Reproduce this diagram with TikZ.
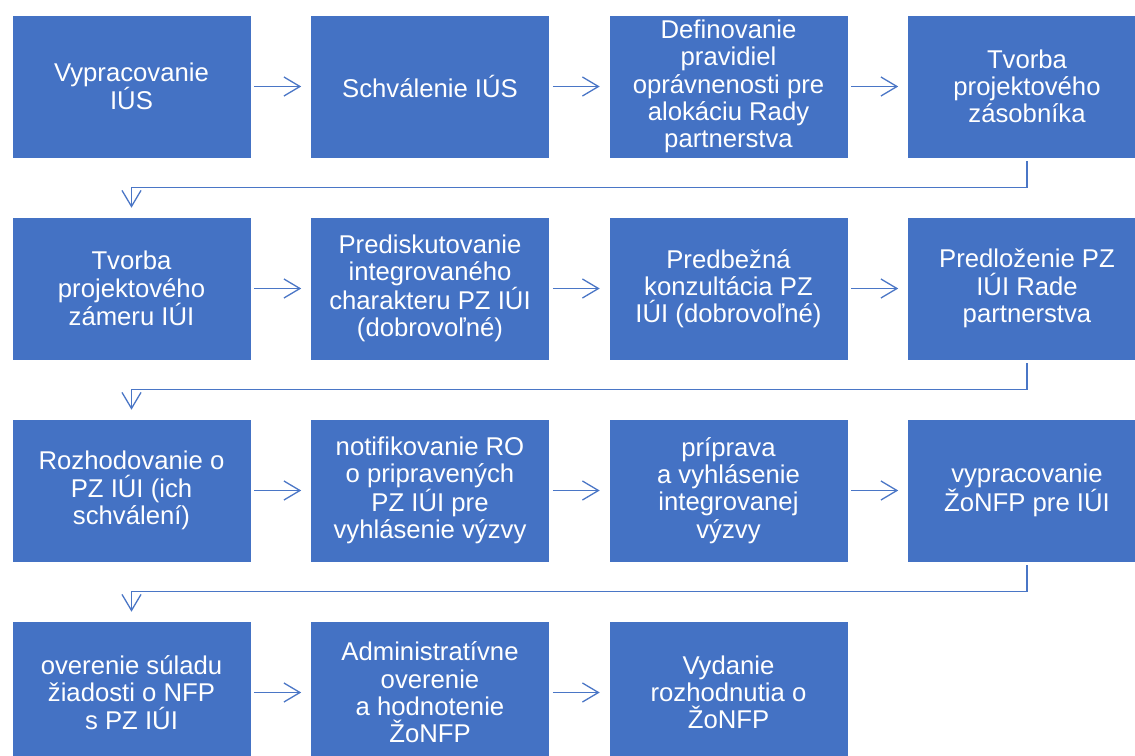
\documentclass[tikz,border=0pt]{standalone}
\usepackage{fontspec}
\setmainfont{Liberation Sans}
\usetikzlibrary{arrows.meta}
\definecolor{boxblue}{HTML}{4472C4}
\definecolor{arrblue}{HTML}{4A76C6}
\tikzset{
  stepbox/.style={rectangle, fill=boxblue, draw=white, line width=0.6pt,
    minimum width=239pt, minimum height=143pt, inner sep=0pt, align=center,
    text=white, font=\fontsize{25.7}{27.3}\selectfont},
  flow/.style={draw=arrblue, line width=1.3pt,
    -{Straight Barb[length=16pt,width=19pt,line width=1.3pt]},
    shorten <=3pt, shorten >=9pt}
}
\begin{document}
\begin{tikzpicture}[x=1pt,y=-1pt]
\useasboundingbox (0,0) rectangle (1135,755);
\fill[white] (0,0) rectangle (1135,755);
\clip (0,0) rectangle (1135,755);
% row 1
\node[stepbox] (b1) at (131.5,86.5) {Vypracovanie\\IÚS};
\node[stepbox] (b2) at (430,86.5) {Schválenie IÚS};
\node[stepbox] (b3) at (728.5,86.5) {Definovanie\\pravidiel\\oprávnenosti pre\\alokáciu Rady\\partnerstva};
\node[stepbox] (b4) at (1027,86.5) {Tvorba\\projektového\\zásobníka};
% row 2
\node[stepbox] (b5) at (131.5,288.5) {Tvorba\\projektového\\zámeru IÚI};
\node[stepbox] (b6) at (430,288.5) {Prediskutovanie\\integrovaného\\charakteru PZ IÚI\\(dobrovoľné)};
\node[stepbox] (b7) at (728.5,288.5) {Predbežná\\konzultácia PZ\\IÚI (dobrovoľné)};
\node[stepbox] (b8) at (1027,288.5) {Predloženie PZ\\IÚI Rade\\partnerstva};
% row 3
\node[stepbox] (b9) at (131.5,490.5) {Rozhodovanie o\\PZ IÚI (ich\\schválení)};
\node[stepbox] (b10) at (430,490.5) {notifikovanie RO\\o pripravených\\PZ IÚI pre\\vyhlásenie výzvy};
\node[stepbox] (b11) at (728.5,490.5) {príprava\\a vyhlásenie\\integrovanej\\výzvy};
\node[stepbox] (b12) at (1027,490.5) {vypracovanie\\ŽoNFP pre IÚI};
% row 4
\node[stepbox] (b13) at (131.5,692.5) {overenie súladu\\žiadosti o NFP\\s PZ IÚI};
\node[stepbox] (b14) at (430,692.5) {Administratívne\\overenie\\a hodnotenie\\ŽoNFP};
\node[stepbox] (b15) at (728.5,692.5) {Vydanie\\rozhodnutia o\\ŽoNFP};
% arrows
\foreach \a/\b in {b1/b2,b2/b3,b3/b4,b5/b6,b6/b7,b7/b8,b9/b10,b10/b11,b11/b12,b13/b14,b14/b15}
  \draw[flow] (\a.east) -- (\b.west);
\draw[flow] (b4.south) -- ++(0,29) -| (b5.north);
\draw[flow] (b8.south) -- ++(0,29) -| (b9.north);
\draw[flow] (b12.south) -- ++(0,29) -| (b13.north);
\end{tikzpicture}
\end{document}
